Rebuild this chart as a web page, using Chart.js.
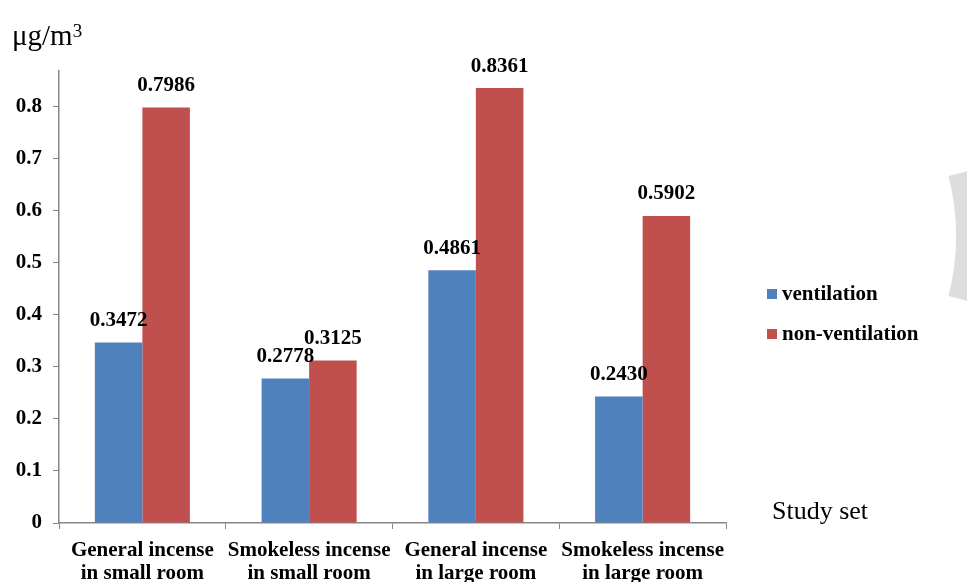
<!DOCTYPE html>
<html>
<head>
<meta charset="utf-8">
<script src="https://cdn.jsdelivr.net/npm/chart.js@4/dist/chart.umd.min.js"></script>
<style>
html,body{margin:0;padding:0;background:#fff;}
#wrap{position:relative;width:967px;height:582px;}
canvas{display:block;}
</style>
</head>
<body>
<div id="wrap"><canvas id="c" width="967" height="582"></canvas></div>
<script>
const categories = [
  ["General incense", "in small room"],
  ["Smokeless incense", "in small room"],
  ["General incense", "in large room"],
  ["Smokeless incense", "in large room"]
];
const ventilation = [0.3472, 0.2778, 0.4861, 0.2430];
const nonVentilation = [0.7986, 0.3125, 0.8361, 0.5902];
const yTicks = [0, 0.1, 0.2, 0.3, 0.4, 0.5, 0.6, 0.7, 0.8];
const seriesNames = ["ventilation", "non-ventilation"];
const seriesColors = ["#4F81BD", "#C0504D"];
const unitLabel = "\u03BCg/m";
const xTitle = "Study set";

const SERIF = "'Liberation Serif', 'Times New Roman', serif";
const AXIS = "#868686";

const decor = {
  id: 'decor',
  afterDatasetsDraw(chart) {
    const ctx = chart.ctx;
    ctx.save();
    // value labels
    ctx.font = "bold 21px " + SERIF;
    ctx.fillStyle = "#000";
    ctx.textAlign = "center";
    ctx.textBaseline = "middle";
    chart.data.datasets.forEach((ds, i) => {
      const meta = chart.getDatasetMeta(i);
      meta.data.forEach((bar, j) => {
        ctx.fillText(ds.data[j].toFixed(4), bar.x, bar.y - 22);
      });
    });
    // unit
    ctx.textAlign = "left";
    ctx.textBaseline = "alphabetic";
    ctx.font = "29px " + SERIF;
    ctx.fillText(unitLabel, 12, 45);
    const w = ctx.measureText(unitLabel).width;
    ctx.font = "19px " + SERIF;
    ctx.fillText("3", 12 + w, 37);
    // x title
    ctx.font = "26px " + SERIF;
    ctx.fillText(xTitle, 772, 519);
    // legend
    ctx.font = "bold 21px " + SERIF;
    ctx.textBaseline = "middle";
    seriesNames.forEach((n, i) => {
      const y = 294 + i * 40;
      ctx.fillStyle = seriesColors[i];
      ctx.fillRect(767, y - 5, 10, 10);
      ctx.fillStyle = "#000";
      ctx.fillText(n, 782, y + 1);
    });
    // decorative arc on right
    ctx.strokeStyle = "#DDDDDD";
    ctx.lineWidth = 34;
    ctx.beginPath();
    const a = Math.asin(60 / 244);
    ctx.arc(712, 236, 244 + 17, -a, a);
    ctx.stroke();
    ctx.restore();
  }
};

new Chart(document.getElementById('c'), {
  type: 'bar',
  data: {
    labels: categories,
    datasets: [
      { label: seriesNames[0], data: ventilation, backgroundColor: seriesColors[0] },
      { label: seriesNames[1], data: nonVentilation, backgroundColor: seriesColors[1] }
    ]
  },
  options: {
    responsive: false,
    animation: false,
    devicePixelRatio: 1,
    layout: { padding: { left: 0, right: 241, top: 71, bottom: 0 } },
    plugins: { legend: { display: false }, tooltip: { enabled: false } },
    datasets: { bar: { categoryPercentage: 0.57, barPercentage: 1.0 } },
    scales: {
      x: {
        grid: { display: true, drawOnChartArea: false, offset: true, color: AXIS, tickColor: AXIS, tickLength: 6 },
        border: { color: AXIS, width: 1.5 },
        ticks: { color: "#000", font: { family: SERIF, size: 21, weight: 'bold', lineHeight: 1.1 }, padding: 10, maxRotation: 0, autoSkip: false },
        afterFit(s) { s.height = 59; }
      },
      y: {
        min: 0,
        max: 0.869,
        afterBuildTicks(s) { s.ticks = yTicks.map(v => ({ value: v })); },
        grid: { display: true, drawOnChartArea: false, color: AXIS, tickColor: AXIS, tickLength: 6 },
        border: { color: AXIS, width: 1.5 },
        ticks: {
          color: "#000",
          font: { family: SERIF, size: 21, weight: 'bold' },
          padding: 11,
          callback: v => (v === 0 ? "0" : v.toFixed(1))
        },
        afterFit(s) { s.width = 59; }
      }
    }
  },
  plugins: [decor]
});
</script>
</body>
</html>
